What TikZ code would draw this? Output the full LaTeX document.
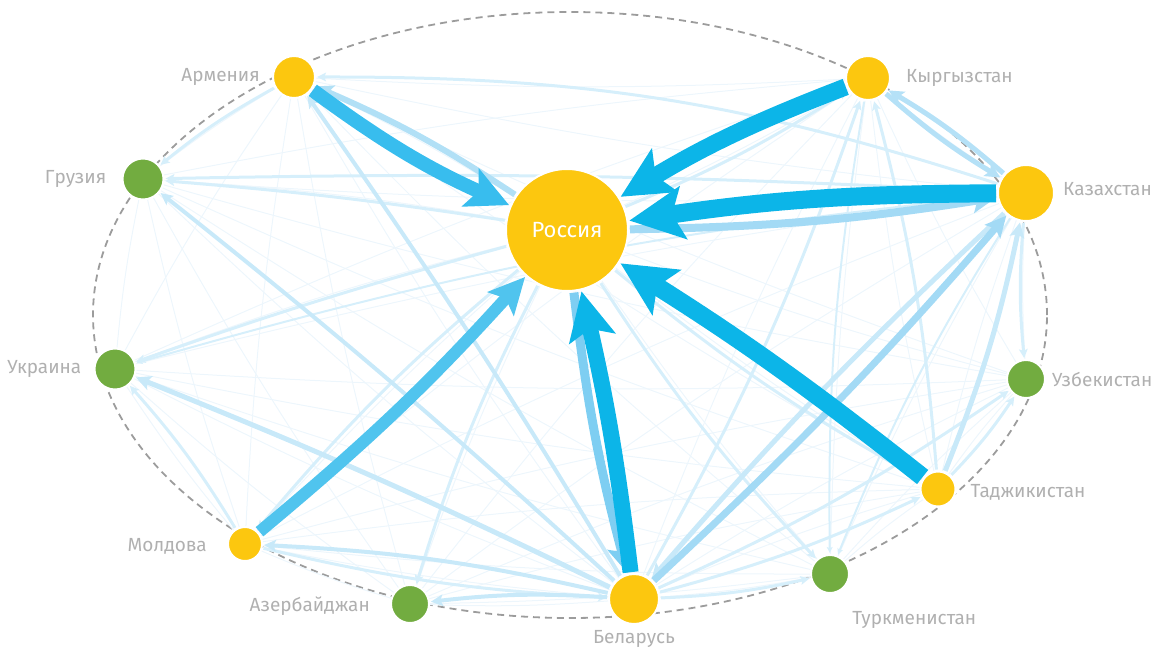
\documentclass[tikz,border=0pt]{standalone}
\usepackage{fontspec}
\setmainfont{Fira Sans}
\usetikzlibrary{positioning,arrows.meta,backgrounds}
\definecolor{cyellow}{HTML}{FCC70F}
\definecolor{cgreen}{HTML}{72AC40}
\definecolor{cgray}{HTML}{B0B0B0}
\definecolor{crim}{HTML}{9C9C9C}
\definecolor{cdark}{HTML}{0CB5E8}
\definecolor{carm}{HTML}{38BDEE}
\definecolor{cmda}{HTML}{50C4EE}
\definecolor{cmid}{HTML}{7ECEF2}
\definecolor{cpale}{HTML}{A3DAF5}
\definecolor{clight}{HTML}{C8E9F9}
\definecolor{cthin}{HTML}{D6EFFB}
\definecolor{cfaint}{HTML}{EDF6FC}

\begin{document}
\begin{tikzpicture}[x=1pt, y=1pt,
  country/.style={circle, draw=white, line width=2pt, inner sep=0pt},
  member/.style={country, fill=cyellow},
  other/.style={country, fill=cgreen},
  lbl/.style={inner sep=0pt, text=cgray, font=\fontsize{19}{22}\selectfont},
  flow/.style={-{Stealth[length=0pt 3.0, width=0pt 2.9, inset=0pt 0.6]},
    bend right=5, shorten >=1pt, shorten <=1pt},
  faint/.style={draw=cfaint, line width=1pt, bend right=3},
  rim/.style={draw=crim, line width=1.8pt, dash pattern=on 7pt off 5pt}]
  \useasboundingbox (0,0) rectangle (1159,-648);

  % countries
  \node[member, minimum size=122pt] (rus) at (567,-230)
    {\color{white}\fontsize{22}{24}\selectfont Россия};
  \node[member, minimum size=42pt] (arm) at (294,-77) {};
  \node[member, minimum size=44pt] (kgz) at (868,-78) {};
  \node[other, minimum size=41pt] (geo) at (143,-179) {};
  \node[member, minimum size=56pt] (kaz) at (1026,-193) {};
  \node[other, minimum size=41pt] (ukr) at (115,-369) {};
  \node[other, minimum size=38pt] (uzb) at (1026,-379) {};
  \node[member, minimum size=35pt] (tjk) at (938,-489) {};
  \node[member, minimum size=34pt] (mda) at (245,-544) {};
  \node[other, minimum size=38pt] (aze) at (410,-604) {};
  \node[member, minimum size=50pt] (blr) at (634,-599) {};
  \node[other, minimum size=38pt] (tkm) at (830,-574) {};

  \node[lbl, left=12pt of arm] {Армения};
  \node[lbl, right=15pt of kgz] {Кыргызстан};
  \node[lbl, left=15pt of geo] {Грузия};
  \node[lbl, right=8pt of kaz, yshift=4pt] {Казахстан};
  \node[lbl, left=12pt of ukr] {Украина};
  \node[lbl, right=6pt of uzb] {Узбекистан};
  \node[lbl, right=14pt of tjk, yshift=-3pt] {Таджикистан};
  \node[lbl, left=20pt of mda, yshift=-2pt] {Молдова};
  \node[lbl, left=20pt of aze, yshift=-2pt] {Азербайджан};
  \node[lbl, below=5pt of blr] {Беларусь};
  \node[lbl, below right=23pt and 8pt of tkm] {Туркменистан};

  \begin{scope}[on background layer]
    \draw[rim] (570,-315) ellipse [x radius=477, y radius=303];
    % faint mesh between all countries
    \foreach \a [count=\i] in {rus,arm,kgz,geo,kaz,ukr,uzb,tjk,mda,aze,blr,tkm} {
      \foreach \b [count=\j] in {rus,arm,kgz,geo,kaz,ukr,uzb,tjk,mda,aze,blr,tkm} {
        \ifnum\i<\j \draw[faint] (\a) to (\b); \fi
      }
    }
    % small flows
    \draw[flow, line width=2pt, draw=cthin] (kgz) to (tkm);
    \draw[flow, line width=2pt, draw=cthin] (kaz) to (tkm);
    \draw[flow, line width=2pt, draw=cthin] (kaz) to (ukr);
    \draw[flow, line width=3pt, draw=cthin, bend right=9] (kaz) to (arm);
    \draw[flow, line width=3pt, draw=cthin, bend right=2] (kaz) to (geo);
    \draw[flow, line width=3pt, draw=cthin] (arm) to (geo);
    \draw[flow, line width=3pt, draw=cthin, bend right=2] (rus) to (geo);
    \draw[flow, line width=3pt, draw=cthin, bend right=2] (rus) to (ukr);
    \draw[flow, line width=3pt, draw=cthin] (mda) to (ukr);
    \draw[flow, line width=3pt, draw=cthin] (rus) to (mda);
    \draw[flow, line width=3pt, draw=cthin] (rus) to (aze);
    \draw[flow, line width=3pt, draw=cthin] (rus) to (tkm);
    \draw[flow, line width=3pt, draw=cthin] (rus) to (tjk);
    \draw[flow, line width=3pt, draw=cthin] (rus) to (kgz);
    \draw[flow, line width=3pt, draw=cthin] (kaz) to (uzb);
    \draw[flow, line width=3pt, draw=cthin] (tjk) to (uzb);
    \draw[flow, line width=3pt, draw=cthin] (tjk) to (kgz);
    \draw[flow, line width=3pt, draw=cthin] (blr) to (uzb);
    \draw[flow, line width=3pt, draw=cthin] (blr) to (tjk);
    \draw[flow, line width=3pt, draw=cthin] (blr) to (kgz);
    \draw[flow, line width=3pt, draw=cthin] (blr) to (tkm);
    \draw[flow, line width=3pt, draw=cthin] (mda) to (blr);
    \draw[flow, line width=4pt, draw=clight] (blr) to (mda);
    \draw[flow, line width=4pt, draw=clight] (blr) to (aze);
    \draw[flow, line width=4pt, draw=clight, bend right=2] (blr) to (arm);
    \draw[flow, line width=4pt, draw=clight, bend right=2] (blr) to (geo);
    \draw[flow, line width=5pt, draw=clight, bend right=2] (blr) to (ukr);
    % medium flows
    \draw[flow, line width=5pt, draw=clight, bend right=3] (kaz) to (blr);
    \draw[flow, line width=5pt, draw=clight] (tjk) to (kaz);
    \draw[flow, line width=5pt, draw=cpale!80] (kaz) to (kgz);
    \draw[flow, line width=5pt, draw=cpale!80] (kgz) to (kaz);
    \draw[flow, line width=7pt, draw=cpale, bend right=3] (blr) to (kaz);
    \draw[flow, line width=6pt, draw=cpale!85] (rus) to (arm);
    \draw[flow, line width=8pt, draw=cpale, bend right=4] (rus) to (kaz);
    \draw[flow, line width=9pt, draw=cmid, bend right=4] (rus) to (blr);
  \end{scope}

  % main flows into Russia
  \draw[flow, line width=14pt, draw=carm, bend right=6] (arm) to (rus);
  \draw[flow, line width=12pt, draw=cmda, bend right=4] (mda) to (rus);
  \draw[flow, line width=17pt, draw=cdark, bend right=5] (kgz) to (rus);
  \draw[flow, line width=18pt, draw=cdark, bend right=4] (kaz) to (rus);
  \draw[flow, line width=18pt, draw=cdark, bend right=3] (tjk) to (rus);
  \draw[flow, line width=16pt, draw=cdark, bend right=3] (blr) to (rus);
\end{tikzpicture}
\end{document}
